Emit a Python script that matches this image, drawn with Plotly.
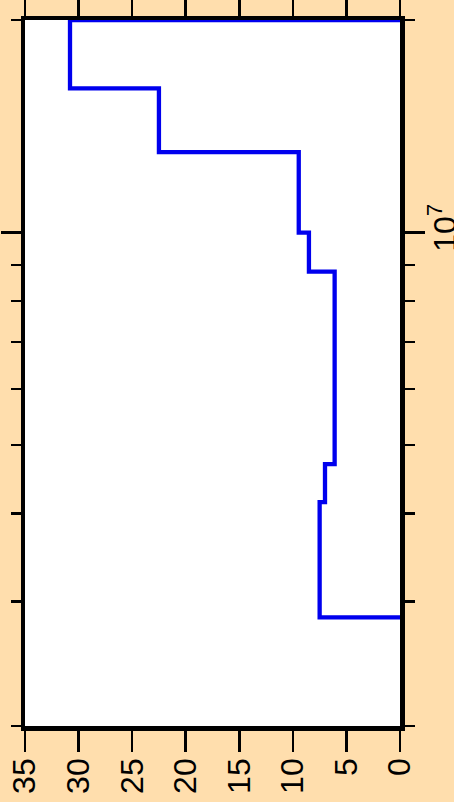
import math
import plotly.graph_objects as go

# Step profile: boundaries on the (log) vertical axis, top to bottom, and level values between them
edges = [2.0e7, 1.6e7, 1.3e7, 1.0e7, 8.8e6, 4.7e6, 4.15e6, 2.85e6]
values = [30.8, 22.5, 9.45, 8.5, 6.1, 7.0, 7.5]

value_ticks = [0, 5, 10, 15, 20, 25, 30, 35]
value_range = [35, 0]
log_range = [2e6, 2e7]
major_ticks = [1e7]
major_text = ["10<sup>7</sup>"]
minor_ticks = [2e6, 3e6, 4e6, 5e6, 6e6, 7e6, 8e6, 9e6, 2e7]

xs, ys = [0], [edges[0]]
for i, v in enumerate(values):
    xs += [v, v]
    ys += [edges[i], edges[i + 1]]
xs.append(0)
ys.append(edges[-1])

fig = go.Figure(go.Scatter(x=xs, y=ys, mode="lines",
                           line=dict(color="#0000ee", width=4.3),
                           showlegend=False, hoverinfo="skip"))

font_family = "Liberation Sans, Arial, sans-serif"

fig.update_layout(
    width=454, height=802,
    paper_bgcolor="#FFDEAD", plot_bgcolor="white",
    margin=dict(l=25, r=54, t=20, b=76, autoexpand=False),
    font=dict(family=font_family, color="black", size=32),
    xaxis=dict(range=value_range, tickmode="array", tickvals=value_ticks,
               ticks="outside", ticklen=21, tickwidth=2.5, tickcolor="black",
               tickangle=-90, tickfont=dict(size=32), automargin=False,
               ticklabelstandoff=-6,
               showline=True, linewidth=4.5, linecolor="black", mirror="ticks",
               showgrid=False, zeroline=False, layer="below traces"),
    yaxis=dict(type="log", range=[math.log10(log_range[0]), math.log10(log_range[1])],
               side="right", tickmode="array", tickvals=major_ticks, ticktext=major_text,
               ticks="outside", ticklen=20, tickwidth=2.5, tickcolor="black",
               tickangle=-90, tickfont=dict(size=32), automargin=False,
               ticklabelstandoff=-7,
               minor=dict(tickmode="array", tickvals=minor_ticks, ticks="outside",
                          ticklen=10, tickwidth=2.5, tickcolor="black", showgrid=False),
               showline=True, linewidth=4.5, linecolor="black", mirror="ticks",
               showgrid=False, zeroline=False, layer="below traces"),
)

fig.write_html("out.html", config={"displayModeBar": False, "staticPlot": True},
               post_script="document.body.style.margin='0';document.body.style.overflow='hidden';")
